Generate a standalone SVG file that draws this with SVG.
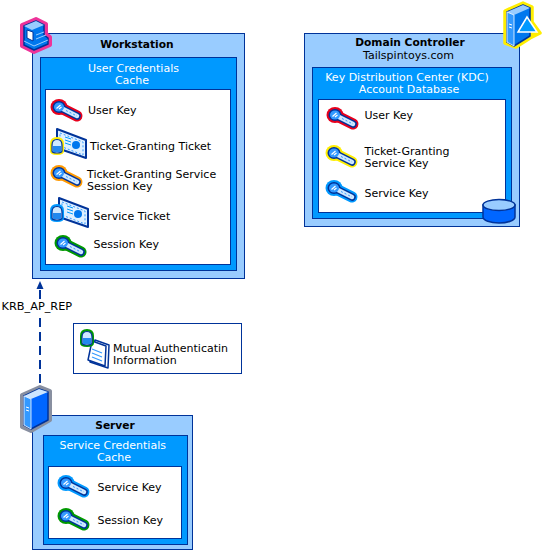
<svg xmlns="http://www.w3.org/2000/svg" xmlns:xlink="http://www.w3.org/1999/xlink" width="542" height="551" viewBox="0 0 542 551">
<style>
text{font-family:"DejaVu Sans",Verdana,sans-serif;font-size:11px;fill:#000}
.b{font-weight:bold;font-size:10.67px;text-anchor:middle}
.c{text-anchor:middle}
.w{fill:#fff;text-anchor:middle}
.outer{fill:#99ccff;stroke:#003399;stroke-width:1}
.inner{fill:#0099ff;stroke:#003399;stroke-width:1}
.white{fill:#fff;stroke:#003399;stroke-width:1}
.d{stroke:#003399;stroke-linejoin:round;stroke-linecap:round}
</style>
<defs>
<g id="key">
<path d="M0 0L18 9" fill="none" stroke="currentColor" stroke-linecap="round" stroke-width="11"/>
<ellipse cx="0" cy="0" rx="8.500" ry="8" fill="currentColor"/>
<path d="M0 0L18 9" stroke="#003399" stroke-width="7.500" stroke-linecap="round"/>
<ellipse cx="0" cy="0" rx="6.500" ry="6" fill="#003399"/>
<path d="M0 0L18 9" stroke="#cfe8ff" stroke-width="4.500" stroke-linecap="round"/>
<path d="M7 3.500L18 9" stroke="#3399ff" stroke-width="1" stroke-dasharray="2 2"/>
<ellipse cx="0" cy="0" rx="5" ry="4.500" fill="#3399ff"/>
<path d="M-2.500 1.500L1.500 -2M0 2L2.500 0" stroke="#fff" stroke-width="1.200"/>
</g>
<g id="lock">
<path d="M-7 -2Q-7 -9 0 -9Q7 -9 7 -2V5Q7 9 0 9Q-7 9 -7 5Z" fill="currentColor"/>
<path d="M-5 -1Q-5 -6.500 0 -6.500Q5 -6.500 5 -1V5Q5 7 0 7Q-5 7 -5 5Z" fill="#cfe8ff" stroke="#003399" stroke-width="1.200"/>
<path d="M-4 0H4V6H-4Z" fill="#2288ee"/>
</g>
<g id="ticket">
<path d="M0 0L29 11V29L0 19Z" fill="#dff0ff" stroke="#003399" stroke-width="2" stroke-linejoin="round"/>
<path d="M3 4L26 13V26L3 17Z" fill="none" stroke="#3399ff" stroke-width="1" stroke-dasharray="2 2"/>
<path d="M8 8L14 10M8 11L14 13M8 14L14 16" stroke="#0099ff" stroke-width="1"/>
<circle cx="19" cy="16" r="4" fill="#0077ee"/>
</g>
</defs>

<g id="connectors">
<path d="M40 290V385" fill="none" stroke="#003399" stroke-width="2" stroke-dasharray="9 5"/>
<path d="M40 281L36.500 289H43.500Z" fill="#003399"/>
</g>
<g id="edge-label">
<rect x="1" y="301" width="73" height="12" fill="#fff"/>
<text x="1.500" y="310" style="font-size:11.300px">KRB_AP_REP</text>
</g>

<g id="workstation">
<rect class="outer" x="32.500" y="33.500" width="212" height="245"/>
<rect class="inner" x="40.500" y="57.500" width="196" height="213"/>
<rect class="white" x="45.500" y="89.500" width="185" height="175"/>
<text class="b" x="137" y="48">Workstation</text>
<text class="w" x="133.500" y="72">User Credentials</text>
<text class="w" x="132" y="84">Cache</text>
<use href="#key" x="59" y="107" color="#e8001c"/>
<text x="88" y="114">User Key</text>
<use href="#ticket" x="57" y="129"/>
<use href="#lock" x="57" y="146" color="#ffee00"/>
<text x="90" y="150">Ticket-Granting Ticket</text>
<use href="#key" x="59" y="173" color="#ff9900"/>
<text x="87" y="178">Ticket-Granting Service</text>
<text x="87" y="190">Session Key</text>
<use href="#ticket" x="59" y="198"/>
<use href="#lock" x="57" y="213" color="#0099ff"/>
<text x="93.500" y="220">Service Ticket</text>
<use href="#key" x="63" y="243" color="#009900"/>
<text x="93.500" y="248">Session Key</text>
<g id="workstation-icon">
<path d="M22 25L36 19L46 24V34L50 37V45L34 52L22 46Z" fill="#3399ff" stroke="#ee3399" stroke-width="4" stroke-linejoin="round"/>
<path d="M24 26L36 21L44 25V35L48 38V44L34 50L24 45Z" fill="#0077ee" class="d" stroke-width="1.500"/>
<path d="M24 26L36 21L44 25L32 30Z" fill="#99ccff"/>
<path d="M27 30L33 32V41L27 38Z" fill="#fff" stroke="#003399"/>
<path d="M24 41L34 46L48 40M36 35L44 32M36 39L46 35" fill="none" stroke="#99ccff"/>
</g>
</g>

<g id="domain-controller">
<rect class="outer" x="304.500" y="33.500" width="215" height="193"/>
<rect class="inner" x="312.500" y="67.500" width="199" height="151"/>
<rect class="white" x="318.500" y="99.500" width="187" height="113"/>
<text class="b" x="410" y="46">Domain Controller</text>
<text class="c" x="408.500" y="59">Tailspintoys.com</text>
<text class="w" x="407" y="81">Key Distribution Center (KDC)</text>
<text class="w" x="409" y="93">Account Database</text>
<use href="#key" x="335" y="115" color="#e8001c"/>
<text x="364.500" y="119">User Key</text>
<use href="#key" x="334" y="153" color="#ffee00"/>
<text x="364.500" y="155">Ticket-Granting</text>
<text x="364.500" y="167">Service Key</text>
<use href="#key" x="334" y="188" color="#0099ff"/>
<text x="364.500" y="197">Service Key</text>
<g id="database-icon">
<path d="M483 205V217A16 6 0 0 0 515 217V205Z" fill="#0066ff" stroke="#003399" stroke-width="1.500"/>
<ellipse cx="499" cy="205" rx="16" ry="5.500" fill="#99ccff" stroke="#003399" stroke-width="1.500"/>
</g>
<g id="dc-icon">
<path d="M505 11L523 3L532 7V22L540 33L530 38L516 47L505 43Z" fill="#ffee00" stroke="#ffee00" stroke-width="3.500" stroke-linejoin="round"/>
<path d="M507 12L523 5L530 8V36L514 46L507 42Z" fill="#0077ee" class="d" stroke-width="1.500"/>
<path d="M507 12L523 5L530 8L514 15Z" fill="#99ccff"/>
<path d="M507 12L514 15V46L507 42Z" fill="#3399ff" stroke="#fff" stroke-width=".8"/>
<path d="M509 24L512 25M509 27L512 28" stroke="#fff"/>
<path d="M527 17L518 32H537Z" fill="#0099ff" stroke="#fff" stroke-width="1.500"/>
</g>
</g>

<g id="note">
<rect class="white" x="73.500" y="323.500" width="168" height="50"/>
<path d="M95 340L109 345L108 368L90 362Z" fill="#fff" stroke="#003399" stroke-width="1.500" stroke-linejoin="round"/>
<path d="M92 341L106 346L105 366L88 360Z" fill="#fff" stroke="#003399" stroke-width="1.500" stroke-linejoin="round"/>
<path d="M92 349L102 353M92 353L102 357M92 357L102 361" stroke="#3399ff" stroke-width="1.200"/>
<use href="#lock" x="87" y="338" color="#009900"/>
<text x="113" y="352">Mutual Authenticatin</text>
<text x="113" y="364">Information</text>
</g>

<g id="server">
<rect class="outer" x="32.500" y="415.500" width="160" height="134"/>
<rect class="inner" x="43.500" y="435.500" width="144" height="109"/>
<rect class="white" x="48.500" y="466.500" width="133" height="72"/>
<text class="b" x="115" y="429">Server</text>
<text class="w" x="112.700" y="449">Service Credentials</text>
<text class="w" x="114" y="461">Cache</text>
<use href="#key" x="66" y="483" color="#0099ff"/>
<text x="97.500" y="491">Service Key</text>
<use href="#key" x="66" y="516" color="#009900"/>
<text x="97.500" y="524">Session Key</text>
<g id="server-icon">
<path d="M22 395L40 387L50 391V420L31 431L22 427Z" fill="#888fa0" stroke="#888fa0" stroke-width="4" stroke-linejoin="round"/>
<path d="M24 396L39 389L48 392V420L31 429L24 425Z" fill="#0066ff" class="d" stroke-width="1.500"/>
<path d="M24 396L39 389L48 392L31 399Z" fill="#cce6ff"/>
<path d="M24 396L31 399V429L24 425Z" fill="#3399ff" stroke="#fff" stroke-width=".8"/>
<path d="M26 407L29 408M26 410L29 411" stroke="#fff"/>
</g>
</g>
</svg>
